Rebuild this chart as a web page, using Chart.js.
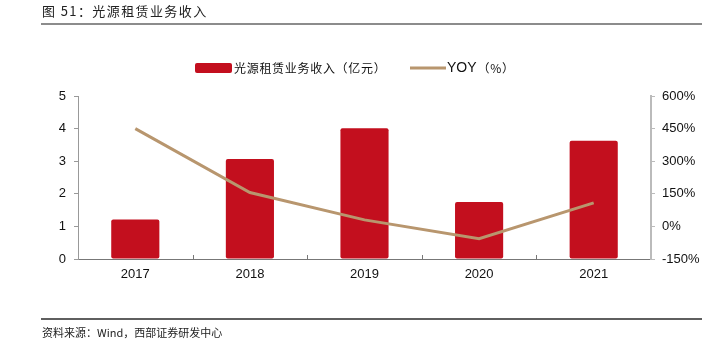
<!DOCTYPE html>
<html>
<head>
<meta charset="utf-8">
<script src="https://cdn.jsdelivr.net/npm/chart.js@4/dist/chart.umd.min.js"></script>
<style>
  html, body { margin: 0; padding: 0; background: #fff; }
  #wrap { width: 717px; height: 348px; position: relative; }
</style>
</head>
<body>
<div id="wrap"><canvas id="c" width="717" height="348"></canvas></div>
<script>
// Light-source leasing revenue (100M CNY) and year-on-year growth (%)
const years = ['2017', '2018', '2019', '2020', '2021'];
const revenue = [1.21, 3.07, 4.01, 1.75, 3.63];
const yoy = [450, 156, 30, -57, 108];
const leftTicks = [0, 1, 2, 3, 4, 5];
const rightTicks = [-150, 0, 150, 300, 450, 600];

const titleText = '图 51：光源租赁业务收入';
const sourceText = '资料来源：Wind，西部证券研发中心';
const barLabel = '光源租赁业务收入（亿元）';
const lineLabel = 'YOY（%）';

const BAR_RED = '#C30F1E';
const LINE_TAN = '#B8966E';
const CJK = '"Noto Sans CJK SC", "Liberation Sans", sans-serif';
const LATIN = '"Liberation Sans", Arial, sans-serif';

// Page frame: heading, rules, source note and legend
const framePlugin = {
  id: 'frame',
  afterDraw(chart) {
    const ctx = chart.ctx;
    ctx.save();
    ctx.textBaseline = 'alphabetic';
    ctx.fillStyle = '#222';
    ctx.font = '13px ' + CJK;
    ctx.letterSpacing = '1.4px';
    ctx.fillText(titleText, 42, 16);
    ctx.letterSpacing = '0px';
    ctx.strokeStyle = '#8c8c8c';
    ctx.lineWidth = 2;
    ctx.beginPath(); ctx.moveTo(41, 24); ctx.lineTo(702, 24); ctx.stroke();

    ctx.strokeStyle = '#2a2a2a';
    ctx.lineWidth = 1.5;
    ctx.beginPath(); ctx.moveTo(41, 319); ctx.lineTo(702, 319); ctx.stroke();
    ctx.font = '11px ' + CJK;
    ctx.fillStyle = '#222';
    ctx.fillText(sourceText, 42, 337);

    // legend
    const bars = chart.data.datasets.find(d => d.type === 'bar');
    const line = chart.data.datasets.find(d => d.type === 'line');
    ctx.fillStyle = bars.backgroundColor;
    ctx.beginPath();
    ctx.roundRect(195, 63, 37, 10, 2);
    ctx.fill();
    ctx.fillStyle = '#111';
    ctx.textBaseline = 'middle';
    ctx.font = '12px ' + CJK;
    ctx.letterSpacing = '0.7px';
    ctx.fillText(bars.label, 234, 68);
    ctx.letterSpacing = '0px';
    ctx.strokeStyle = line.borderColor;
    ctx.lineWidth = 3;
    ctx.beginPath(); ctx.moveTo(410, 68); ctx.lineTo(446, 68); ctx.stroke();
    ctx.font = '14px ' + LATIN;
    ctx.fillText('YOY', 447, 68);
    const w = ctx.measureText('YOY').width;
    ctx.font = '12px ' + CJK;
    ctx.letterSpacing = '0.7px';
    ctx.fillText(line.label.slice(3), 447 + w + 1, 68);
    ctx.restore();
  }
};

// Short inward tick marks between categories on the x axis
const xTickPlugin = {
  id: 'xTicks',
  afterDatasetsDraw(chart) {
    const { ctx, chartArea, scales } = chart;
    const x = scales.x;
    ctx.save();
    ctx.strokeStyle = '#777';
    ctx.lineWidth = 1;
    for (let i = 1; i < years.length; i++) {
      const px = Math.round((x.getPixelForValue(i - 1) + x.getPixelForValue(i)) / 2) + 0.5;
      ctx.beginPath();
      ctx.moveTo(px, chartArea.bottom);
      ctx.lineTo(px, chartArea.bottom - 4);
      ctx.stroke();
    }
    ctx.restore();
  }
};

new Chart(document.getElementById('c'), {
  data: {
    labels: years,
    datasets: [
      {
        type: 'line',
        label: lineLabel,
        data: yoy,
        yAxisID: 'y1',
        borderColor: LINE_TAN,
        backgroundColor: LINE_TAN,
        borderWidth: 3,
        pointRadius: 0,
        tension: 0,
        order: 0
      },
      {
        type: 'bar',
        label: barLabel,
        data: revenue,
        yAxisID: 'y',
        backgroundColor: BAR_RED,
        borderRadius: 2,
        borderSkipped: false,
        categoryPercentage: 0.84,
        barPercentage: 0.5,
        order: 1
      }
    ]
  },
  options: {
    responsive: false,
    animation: false,
    layout: { padding: { top: 96, left: 0, right: 0, bottom: 0 } },
    plugins: { legend: { display: false }, tooltip: { enabled: false }, title: { display: false } },
    scales: {
      x: {
        offset: true,
        grid: { display: false, drawTicks: false },
        border: { display: true, color: '#777', width: 1 },
        ticks: { color: '#111', font: { family: LATIN, size: 13 }, padding: 8 },
        afterFit(s) { s.height = 89; }
      },
      y: {
        position: 'left',
        min: 0, max: 5,
        afterBuildTicks(s) { s.ticks = leftTicks.map(v => ({ value: v })); },
        grid: { drawOnChartArea: false, drawTicks: true, tickLength: 4, color: '#999' },
        border: { display: true, color: '#999', width: 1 },
        ticks: { color: '#111', font: { family: LATIN, size: 13 }, padding: 8 },
        afterFit(s) { s.width = 78; }
      },
      y1: {
        position: 'right',
        min: -150, max: 600,
        afterBuildTicks(s) { s.ticks = rightTicks.map(v => ({ value: v })); },
        grid: { drawOnChartArea: false, drawTicks: true, tickLength: 4, color: '#bbb' },
        border: { display: true, color: '#bbb', width: 2 },
        ticks: {
          color: '#111', font: { family: LATIN, size: 13 }, padding: 7,
          callback: v => v + '%'
        },
        afterFit(s) { s.width = 66; }
      }
    }
  },
  plugins: [framePlugin, xTickPlugin]
});
</script>
</body>
</html>
